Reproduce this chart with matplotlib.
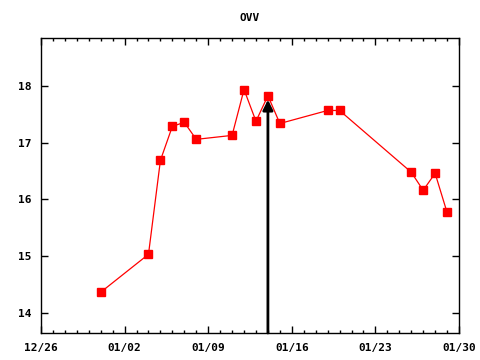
import matplotlib
matplotlib.use("Agg")
import matplotlib.pyplot as plt
import matplotlib.dates as mdates
import numpy as np
import pandas as pd

dates = ["2017-12-31", "2018-01-04", "2018-01-05", "2018-01-06", "2018-01-07",
         "2018-01-08", "2018-01-11", "2018-01-12", "2018-01-13", "2018-01-14",
         "2018-01-15", "2018-01-19", "2018-01-20", "2018-01-26", "2018-01-27",
         "2018-01-28", "2018-01-29"]
prices = [14.36, 15.03, 16.69, 17.29, 17.36, 17.06, 17.13, 17.94, 17.38, 17.83,
          17.34, 17.57, 17.57, 16.48, 16.16, 16.46, 15.77]
arrow_date = "2018-01-14"
arrow_value = 17.76
title = "OVV"
x_ticks = ["2017-12-26", "2018-01-02", "2018-01-09", "2018-01-16",
           "2018-01-23", "2018-01-30"]
y_ticks = [14, 15, 16, 17, 18]
y_min, y_max = 13.64, 18.85

x = pd.to_datetime(dates)
xt = pd.to_datetime(x_ticks)

fig = plt.figure(figsize=(4.8, 3.6), dpi=100)
ax = fig.add_axes([41 / 480, 27 / 360, 418 / 480, 295 / 360])

font = {"family": "DejaVu Sans Mono", "weight": "bold", "size": 8}

ax.plot(x, prices, color="red", lw=0.9, marker="s", ms=6, mec="red", mfc="red")

ax.annotate("", xy=(pd.Timestamp(arrow_date), arrow_value),
            xytext=(pd.Timestamp(arrow_date), y_min),
            arrowprops=dict(arrowstyle="-|>,head_length=0.6,head_width=0.3",
                            color="black", lw=2, shrinkA=0, shrinkB=0))

ax.set_xlim(xt[0], xt[-1])
ax.set_ylim(y_min, y_max)

ax.set_xticks(xt)
ax.xaxis.set_major_formatter(mdates.DateFormatter("%m/%d"))
ax.xaxis.set_minor_locator(mdates.DayLocator())
ax.set_yticks(y_ticks)

ax.tick_params(which="both", direction="in", top=True, right=True, width=1)
ax.tick_params(which="major", length=5, pad=7)
ax.tick_params(which="minor", length=2.5)
for lab in ax.get_xticklabels() + ax.get_yticklabels():
    lab.set_fontproperties(font)
for s in ax.spines.values():
    s.set_linewidth(1)

fig.text(250 / 480, 1 - 18 / 360, title, ha="center", va="center", **font)

fig.savefig("out.png", dpi=100)
